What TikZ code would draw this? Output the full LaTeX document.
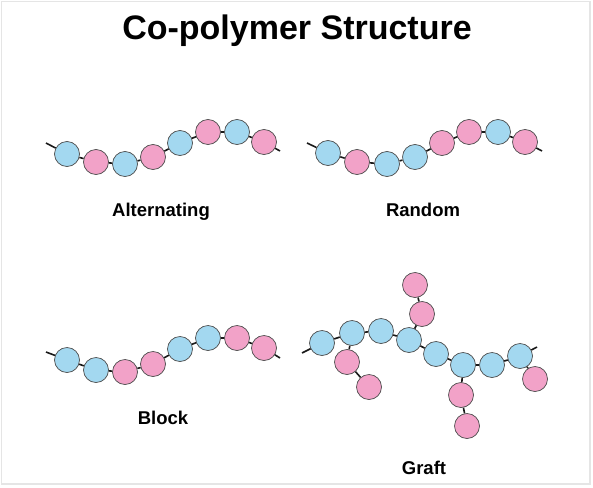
\documentclass[tikz,border=0pt]{standalone}
\usepackage{fontspec}
\setmainfont{Liberation Sans}
\usepackage{tikz}
\usetikzlibrary{positioning}
\definecolor{unitblue}{RGB}{163,216,240}
\definecolor{unitpink}{RGB}{242,162,200}
\tikzset{
    bluemono/.style = {
        circle,
        draw=black!70,
        fill=unitblue,
        minimum size=25pt,
        inner sep=0pt,
        line width=0.7pt
    },
    pinkmono/.style = {
        bluemono,
        fill=unitpink
    },
    bond/.style = {
        line width=1.6pt,
        black!90
    },
    chainname/.style = {
        anchor=base,
        font=\fontsize{18.5}{22}\selectfont\bfseries
    }
}

\begin{document}
\begin{tikzpicture}[x=1pt,y=-1pt]
\useasboundingbox (0,0) rectangle (593,487);
\draw[black!10,line width=1.5pt] (1.5,1.5) rectangle (590,484);

\node (title) [anchor=base,font=\fontsize{34}{40}\selectfont\bfseries] at (297,40) {Co-polymer Structure};

% alternating
\coordinate (aL) at (46,143);
\coordinate (aR) at (280,151);
\node (a1) [bluemono] at (67,154) {};
\node (a2) [pinkmono] at (96,162) {};
\node (a3) [bluemono] at (125,164) {};
\node (a4) [pinkmono] at (153,157) {};
\node (a5) [bluemono] at (180,143) {};
\node (a6) [pinkmono] at (208,132) {};
\node (a7) [bluemono] at (237,132) {};
\node (a8) [pinkmono] at (264,142) {};
\draw[bond] (aL) -- (a1);
\draw[bond] (a8) -- (aR);
\foreach \i/\j in {1/2,2/3,3/4,4/5,5/6,6/7,7/8}
    \draw[bond] (a\i) -- (a\j);
\node (alt) [chainname] at (161,216) {Alternating};

% random
\coordinate (rL) at (307,143);
\coordinate (rR) at (542,151);
\node (r1) [bluemono] at (328,153) {};
\node (r2) [pinkmono] at (357,162) {};
\node (r3) [bluemono] at (387,164) {};
\node (r4) [bluemono] at (415,157) {};
\node (r5) [pinkmono] at (442,143) {};
\node (r6) [pinkmono] at (469,132) {};
\node (r7) [bluemono] at (498,132) {};
\node (r8) [pinkmono] at (525,142) {};
\draw[bond] (rL) -- (r1);
\draw[bond] (r8) -- (rR);
\foreach \i/\j in {1/2,2/3,3/4,4/5,5/6,6/7,7/8}
    \draw[bond] (r\i) -- (r\j);
\node (rand) [chainname] at (423,216) {Random};

% block
\coordinate (kL) at (46,352);
\coordinate (kR) at (280,358);
\node (k1) [bluemono] at (67,360) {};
\node (k2) [bluemono] at (96,370) {};
\node (k3) [pinkmono] at (125,372) {};
\node (k4) [pinkmono] at (153,364) {};
\node (k5) [bluemono] at (180,349) {};
\node (k6) [bluemono] at (208,338) {};
\node (k7) [pinkmono] at (237,338) {};
\node (k8) [pinkmono] at (264,348) {};
\draw[bond] (kL) -- (k1);
\draw[bond] (k8) -- (kR);
\foreach \i/\j in {1/2,2/3,3/4,4/5,5/6,6/7,7/8}
    \draw[bond] (k\i) -- (k\j);
\node (block) [chainname] at (163,424) {Block};

% graft
\coordinate (gL) at (302,353);
\coordinate (gR) at (537,347);
\node (g1) [bluemono] at (322,343) {};
\node (g2) [bluemono] at (352,333) {};
\node (g3) [bluemono] at (381,331) {};
\node (g4) [bluemono] at (409,340) {};
\node (g5) [bluemono] at (436,354) {};
\node (g6) [bluemono] at (463,365) {};
\node (g7) [bluemono] at (492,365) {};
\node (g8) [bluemono] at (520,356) {};
\node (s1) [pinkmono] at (347,362) {};
\node (s2) [pinkmono] at (369,387) {};
\node (s3) [pinkmono] at (422,314) {};
\node (s4) [pinkmono] at (415,285) {};
\node (s5) [pinkmono] at (461,395) {};
\node (s6) [pinkmono] at (467,426) {};
\node (s7) [pinkmono] at (535,379) {};
\draw[bond] (gL) -- (g1);
\draw[bond] (g8) -- (gR);
\foreach \i/\j in {1/2,2/3,3/4,4/5,5/6,6/7,7/8}
    \draw[bond] (g\i) -- (g\j);
\foreach \i/\j in {g2/s1,s1/s2,g4/s3,s3/s4,g6/s5,s5/s6,g8/s7}
    \draw[bond] (\i) -- (\j);
\node (graft) [chainname] at (424,474) {Graft};
\end{tikzpicture}
\end{document}
